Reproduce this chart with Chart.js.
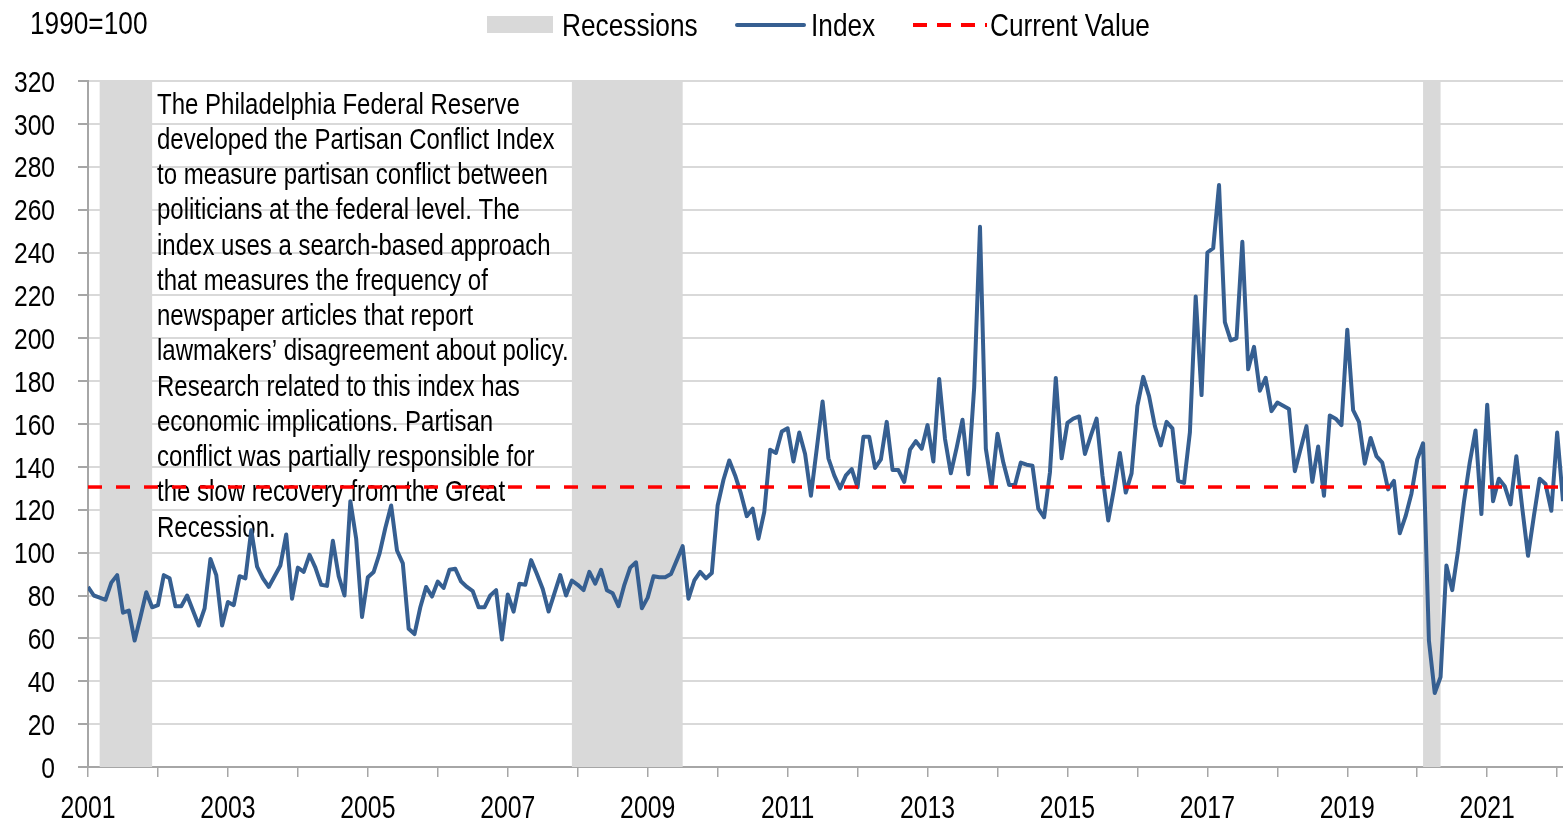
<!DOCTYPE html>
<html>
<head>
<meta charset="utf-8">
<script src="https://cdn.jsdelivr.net/npm/chart.js@4.4.1/dist/chart.umd.min.js"></script>
<style>
  html, body { margin: 0; padding: 0; background: #fff; overflow: hidden; }
</style>
</head>
<body>
<canvas id="chart" width="1563" height="822"></canvas>
<script>
// Partisan Conflict Index, monthly, Jan 2001 .. Feb 2022 (1990=100)
// no narrow font installed, so text is Liberation Sans squeezed sideways
const SANS = "'Liberation Sans', Arial, sans-serif";
const SQUEEZE = 0.8;

const yearLabels = ['2001','2003','2005','2007','2009','2011','2013','2015','2017','2019','2021'];

const indexValues = [
  84,80,79,78,86,89.5,72,73,59,70,81.5,74.5,               // 2001
  75.5,89.5,88,75,75,80,73,66,74,97,89.5,66,               // 2002
  77,75.5,89,88,110.5,93.5,88,84,89,94,108.5,78.5,         // 2003
  93,91,99,93,85,84.5,105.5,89,80,124,106.5,70,            // 2004
  88.5,91,99.5,111.5,122,101,95,64.5,62,74.5,84,79.5,      // 2005
  86.5,83.5,92,92.5,86.5,84,82,74.5,74.5,80,82.5,59.5,     // 2006
  80.5,72.5,85.5,85,96.5,90,83,72.5,81,89.5,80,87,         // 2007
  85,82.5,91,85.5,92,82.5,81,75,85,93,95.5,74,             // 2008
  79,89,88.5,88.5,90,96.5,103,78.5,87,91,88,90.5,          // 2009
  122,134,143,136,127.5,117,120.5,106.5,119,148,146.5,156.5, // 2010
  158,142.5,156,146,126.5,148.5,170.5,144,136,130,136,139, // 2011
  130.5,154,154,139.5,143.5,161,138.5,138.5,133,148,152,148.5, // 2012
  159.5,142.5,181,153,137,149,162,136.5,177,252,148.5,131, // 2013
  155.5,142,131.5,131.5,142,141,140.5,120.5,116.5,137.5,181.5,144, // 2014
  160.5,162.5,163.5,146,154.5,162.5,136,115,130,146.5,128,137, // 2015
  168.5,182,173,159,150,161,158,133.5,132.5,156,219.5,173.5, // 2016
  240,242,271.5,207.5,199,200,245,185.5,196,175.5,181.5,166, // 2017
  170,168.5,167,138,148.5,159,133,149.5,126.5,164,162.5,159.5, // 2018
  204,166.5,161,141.5,153.5,145,142,129.5,133.5,109,117,127.5, // 2019
  143.5,151,59,34.5,42,94,82.5,101,123.5,142,157,118,      // 2020
  169,124,134.5,131,122.5,145,121,98.5,117,134.5,132,119.5, // 2021
  156,124                                                  // 2022
];

const currentValue = 130.6;

// recession spans, in months since Jan 2001
const recessionStarts = [2, 83, 229];
const recessionEnds = [11, 102, 232];

const noteLines = [
  'The Philadelphia Federal Reserve',
  'developed the Partisan Conflict Index',
  'to measure partisan conflict between',
  'politicians at the federal level. The',
  'index uses a search-based approach',
  'that measures the frequency of',
  'newspaper articles that report',
  'lawmakers\u2019 disagreement about policy.',
  'Research related to this index has',
  'economic implications. Partisan',
  'conflict was partially responsible for',
  'the slow recovery from the Great',
  'Recession.'
];

const BLUE = '#365f91';
const RED = '#ff0000';
const SHADE = '#d9d9d9';
const lastIdx = indexValues.length - 1;

function narrowText(ctx, text, x, y, size, align, sx) {
  ctx.save();
  ctx.font = size + 'px ' + SANS;
  ctx.textAlign = align || 'left';
  ctx.textBaseline = 'alphabetic';
  ctx.fillStyle = '#000';
  ctx.translate(x, y);
  ctx.scale(sx || SQUEEZE, 1);
  ctx.fillText(text, 0, 0);
  ctx.restore();
}

const decor = {
  id: 'decor',
  beforeDatasetsDraw(chart) {
    const { ctx, chartArea: a, scales: { x } } = chart;
    ctx.save();
    ctx.fillStyle = SHADE;
    recessionStarts.forEach((s, i) => {
      const x0 = x.getPixelForValue(s), x1 = x.getPixelForValue(recessionEnds[i]);
      ctx.fillRect(x0, a.top, x1 - x0, a.bottom - a.top);
    });
    ctx.restore();
    noteLines.forEach((t, i) => narrowText(ctx, t, 157, 113.5 + i * 35.25, 30));
  },
  afterDraw(chart) {
    const { ctx, scales: { x, y } } = chart;
    // axis labels
    y.ticks.forEach(t => narrowText(ctx, String(t.value), 55, y.getPixelForValue(t.value) + 10.7, 30, 'right', 0.82));
    x.ticks.forEach(t => {
      if (t.value % 24 !== 0) return;
      narrowText(ctx, yearLabels[t.value / 24], x.getPixelForValue(t.value), 818, 31, 'center', 0.8);
    });
    // header + legend
    narrowText(ctx, '1990=100', 30, 33.5, 32, 'left', 0.82);
    ctx.save();
    ctx.fillStyle = SHADE;
    ctx.fillRect(487, 16, 66, 17);
    ctx.strokeStyle = BLUE; ctx.lineWidth = 4; ctx.lineCap = 'round';
    ctx.beginPath(); ctx.moveTo(737, 25); ctx.lineTo(804, 25); ctx.stroke();
    ctx.strokeStyle = RED; ctx.lineCap = 'butt'; ctx.setLineDash([14, 10]);
    ctx.beginPath(); ctx.moveTo(913, 25); ctx.lineTo(987, 25); ctx.stroke();
    ctx.restore();
    narrowText(ctx, 'Recessions', 562, 35.5, 32, 'left', 0.82);
    narrowText(ctx, 'Index', 811, 35.5, 32, 'left', 0.82);
    narrowText(ctx, 'Current Value', 990, 35.5, 32, 'left', 0.82);
  }
};

new Chart(document.getElementById('chart'), {
  type: 'line',
  data: {
    datasets: [
      {
        label: 'Index',
        data: indexValues.map((v, i) => ({ x: i, y: v })),
        borderColor: BLUE, borderWidth: 4, pointRadius: 0, tension: 0,
        borderJoinStyle: 'round', order: 2
      },
      {
        label: 'Current Value',
        data: [{ x: 0, y: currentValue }, { x: lastIdx, y: currentValue }],
        borderColor: RED, borderWidth: 3.5, borderDash: [14, 14], pointRadius: 0, order: 1
      }
    ]
  },
  options: {
    responsive: false,
    animation: false,
    devicePixelRatio: 1,
    layout: { padding: { top: 81, right: 0, left: 0, bottom: 0 } },
    plugins: { legend: { display: false }, tooltip: { enabled: false } },
    scales: {
      x: {
        type: 'linear', min: 0, max: lastIdx,
        afterFit(s) { s.height = 55; s.paddingLeft = 0; s.paddingRight = 0; },
        border: { color: '#a6a6a6', width: 2 },
        grid: { drawOnChartArea: false, drawTicks: true, tickLength: 10, tickColor: '#a6a6a6', lineWidth: 1.5 },
        ticks: { display: false, stepSize: 12, includeBounds: false, autoSkip: false }
      },
      y: {
        min: 0, max: 320,
        afterFit(s) { s.width = 88; },
        border: { color: '#a6a6a6', width: 2 },
        grid: { color: '#d9d9d9', lineWidth: 2, tickColor: '#a6a6a6', tickLength: 10 },
        ticks: { display: false, stepSize: 20 }
      }
    }
  },
  plugins: [decor]
});
</script>
</body>
</html>
